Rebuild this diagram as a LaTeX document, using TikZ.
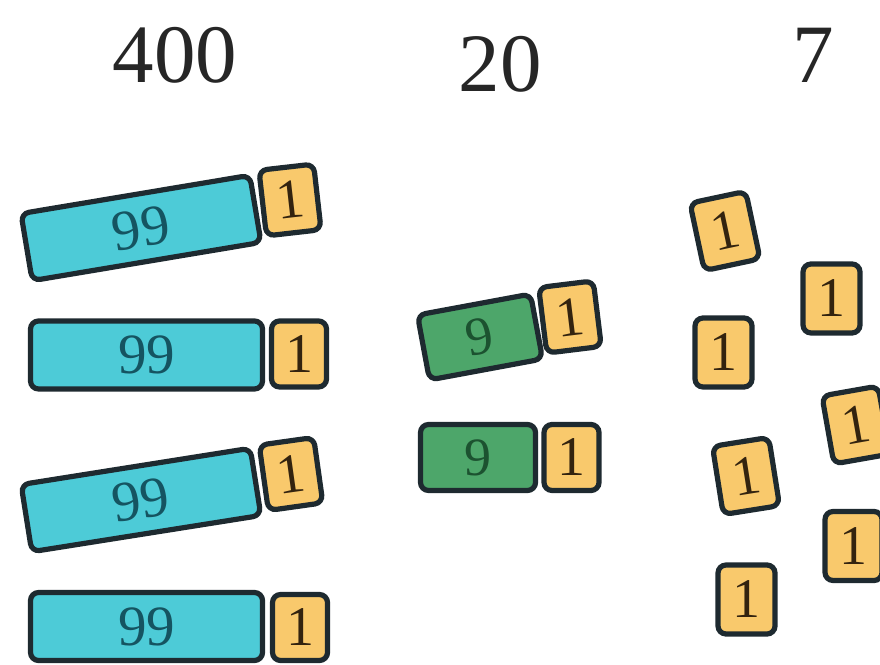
\documentclass[tikz,border=0pt]{standalone}
\usepackage{fontspec}
\setmainfont{Liberation Serif}
\definecolor{bluefill}{HTML}{4DCBD7}
\definecolor{greenfill}{HTML}{4DA66A}
\definecolor{yellowfill}{HTML}{F9C96C}
\definecolor{edge}{HTML}{1E2A30}
\definecolor{bluetext}{HTML}{155461}
\definecolor{greentext}{HTML}{1C5230}
\definecolor{yellowtext}{HTML}{33230F}
\tikzset{
  tile/.style={draw=edge, line width=5.2pt, rounded corners=8pt, inner sep=0pt},
  bluebar/.style={tile, fill=bluefill, text=bluetext, minimum width=232pt, minimum height=68pt, font=\fontsize{57}{57}\selectfont},
  greenbar/.style={tile, fill=greenfill, text=greentext, minimum width=115pt, minimum height=66pt, font=\fontsize{54}{54}\selectfont},
  onebox/.style={tile, fill=yellowfill, text=yellowtext, minimum width=55pt, minimum height=66pt, font=\fontsize{56}{56}\selectfont},
  onefree/.style={onebox, minimum width=57pt, minimum height=69pt},
  title/.style={anchor=base, inner sep=0pt, font=\fontsize{83}{83}\selectfont, text=black!85}
}
\begin{document}
\begin{tikzpicture}[x=1pt,y=1pt]
\useasboundingbox (0,0) rectangle (880,664);
% titles
\node[title] (t400) at (175,581) {400};
\node[title] (t20) at (500,572) {20};
\node[title] (t7) at (813,581) {7};
% hundreds column
\node[bluebar, rotate=9.5] (b1) at (141,436) {99};
\node[onebox, rotate=6.5] (y1) at (290,464) {1};
\node[bluebar] (b2) at (146.5,309) {99};
\node[onebox] (y2) at (299,310) {1};
\node[bluebar, rotate=9] (b3) at (141,164) {99};
\node[onebox, rotate=8] (y3) at (291,190) {1};
\node[bluebar] (b4) at (146.5,37.5) {99};
\node[onebox] (y4) at (300,36.5) {1};
% tens column
\node[greenbar, rotate=10.5] (g1) at (480,327) {9};
\node[onebox, rotate=7] (gy1) at (570,347) {1};
\node[greenbar] (g2) at (478,206.5) {9};
\node[onebox] (gy2) at (571.5,206.5) {1};
% ones column
\node[onefree, rotate=12] (oA) at (725,433) {1};
\node[onefree] (oB) at (831.5,365.5) {1};
\node[onefree] (oC) at (723.5,311.5) {1};
\node[onefree, rotate=10] (oD) at (856,239) {1};
\node[onefree, rotate=9] (oE) at (746,188) {1};
\node[onefree] (oF) at (853.5,118) {1};
\node[onefree] (oG) at (746.5,64.5) {1};
\end{tikzpicture}
\end{document}
